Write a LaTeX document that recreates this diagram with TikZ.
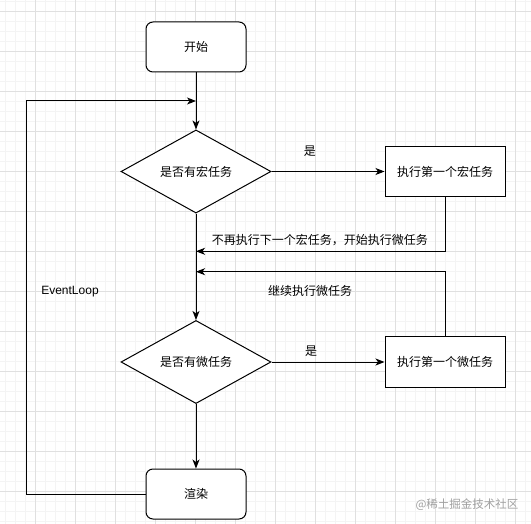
\documentclass[tikz,border=0pt]{standalone}
\usepackage{fontspec}
\setmainfont{Liberation Sans}
\newfontfamily\cjk{Noto Sans CJK SC}
\usetikzlibrary{arrows.meta,shapes.geometric}
\definecolor{gridminor}{RGB}{244,244,244}
\definecolor{gridmajor}{RGB}{224,224,224}
\definecolor{wmark}{RGB}{160,160,160}
\begin{document}
\begin{tikzpicture}[x=1pt,y=-1pt,
  txt/.style={font=\cjk\fontsize{12}{14}\selectfont, inner sep=0pt, text=black},
  conn/.style={line width=1pt, draw=black},
  arr/.style={conn, -{Stealth[length=9pt,width=7pt,inset=2.5pt]}},
  term/.style={draw, line width=1pt, rounded corners=7pt, minimum width=100pt, minimum height=50pt, txt, fill=white},
  proc/.style={draw, line width=1pt, minimum width=120pt, minimum height=50pt, txt, fill=white},
  dec/.style={draw, line width=1pt, diamond, minimum width=150pt, minimum height=80pt, txt, fill=white}]
\useasboundingbox (0,0) rectangle (531,524);
\fill[white] (0,0) rectangle (531,524);
% grid
\foreach \x in {5.3,15.3,...,531} \draw[gridminor, line width=1pt] (\x,0) -- (\x,524);
\foreach \y in {1.7,11.7,...,524} \draw[gridminor, line width=1pt] (0,\y) -- (531,\y);
\foreach \x in {35.3,75.3,...,531} \draw[gridmajor, line width=1pt] (\x,0) -- (\x,524);
\foreach \y in {11.7,51.7,...,524} \draw[gridmajor, line width=1pt] (0,\y) -- (531,\y);
% nodes
\node[term] (start) at (196,47) {开始};
\node[dec] (d1) at (196,171.5) {是否有宏任务};
\node[proc] (p1) at (445,171.5) {执行第一个宏任务};
\node[dec] (d2) at (196,362) {是否有微任务};
\node[proc] (p2) at (445,362) {执行第一个微任务};
\node[term] (render) at (196,494) {渲染};
\coordinate (j0) at (196,101);
\coordinate (j1) at (196,251.3);
\coordinate (j2) at (196,271.7);
\coordinate (lc) at (26,101);
% connectors
\draw[arr] (start) -- (d1);
\draw[arr] (d1) -- node[txt, pos=0.34, yshift=20pt] {是} (p1);
\draw[arr] (p1.south) |- node[txt, pos=0.751, yshift=11pt] {不再执行下一个宏任务，开始执行微任务} (j1);
\draw[arr] (p2.north) |- node[txt, pos=0.771, yshift=-19.5pt] {继续执行微任务} (j2);
\draw[arr] (d1) -- (d2);
\draw[arr] (d2) -- node[txt, pos=0.35, yshift=11pt] {是} (p2);
\draw[arr] (d2) -- (render);
\draw[arr] (render.west) -| node[pos=0.758, xshift=44pt, inner sep=0pt, font=\fontsize{12}{14}\selectfont] {EventLoop} (lc) -- (j0);
% watermark
\node[txt, text=wmark, font=\cjk\fontsize{11.5}{14}\selectfont] (wm) at (467,505) {@稀土掘金技术社区};
\end{tikzpicture}
\end{document}
